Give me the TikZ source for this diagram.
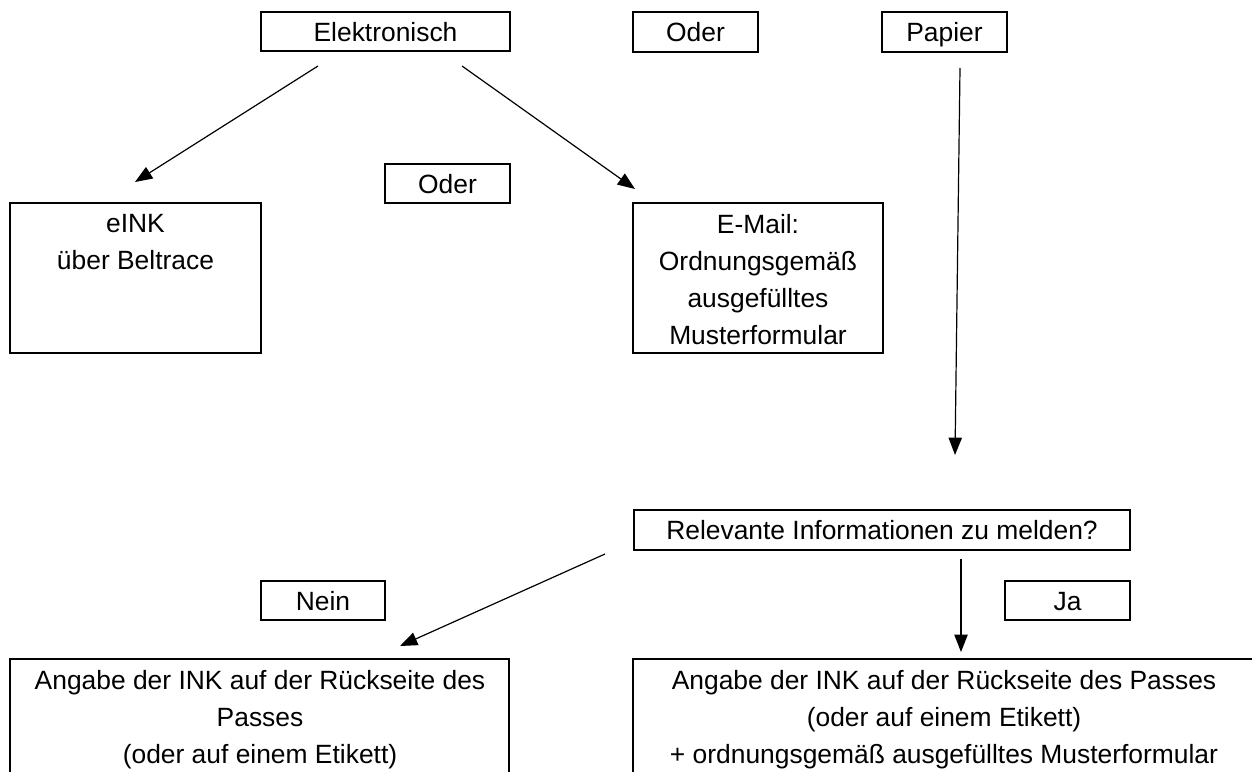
\documentclass[tikz,border=0pt]{standalone}
\usepackage{fontspec}
\setmainfont{Liberation Sans}
\usetikzlibrary{arrows.meta}
\begin{document}
\begin{tikzpicture}[x=0.75pt,y=-0.75pt,
  every node/.style={font=\fontsize{19.8pt}{27.75pt}\selectfont, inner sep=0pt},
  box/.style={draw, line width=1.2pt, rectangle, text height=14.3pt, text depth=0pt},
  bigbox/.style={draw, line width=1.2pt, rectangle},
  txt/.style={align=center, anchor=base},
  conn/.style={line width=0.9pt, -{Triangle[length=13pt,width=10pt]}}]
\useasboundingbox (0,0) rectangle (1252,771);
% top row
\node[box, minimum width=186.75pt, minimum height=29.25pt] (el) at (385.5,31.5) {Elektronisch};
\node[box, minimum width=93.75pt, minimum height=30pt] (oder1) at (695.5,32) {Oder};
\node[box, minimum width=93.75pt, minimum height=30pt] (pap) at (944.5,32) {Papier};
% middle
\node[box, minimum width=93.75pt, minimum height=29.25pt] (oder2) at (447.5,183.5) {Oder};
\node[bigbox, minimum width=188.25pt, minimum height=112.5pt] (eink) at (135.5,278) {};
\node[txt] (einkT) at (135.5,269) {eINK\\über Beltrace};
\node[bigbox, minimum width=187.5pt, minimum height=112.5pt] (mail) at (758,278) {};
\node[txt] (mailT) at (758,344) {E-Mail:\\Ordnungsgemäß\\ausgefülltes\\Musterformular};
% decision
\node[box, minimum width=372pt, minimum height=30pt] (rel) at (882,530) {Relevante Informationen zu melden?};
\node[box, minimum width=93pt, minimum height=29.25pt] (nein) at (323,600.5) {Nein};
\node[box, minimum width=93.75pt, minimum height=29.25pt] (ja) at (1067.5,600.5) {Ja};
% bottom boxes (open at the bottom / right)
\coordinate (blA) at (10,780);
\coordinate (blB) at (10,659);
\coordinate (blC) at (509,659);
\coordinate (blD) at (509,780);
\draw[line width=1.2pt] (blA) -- (blB) -- (blC) -- (blD);
\node[txt] (leftT) at (260,763) {Angabe der INK auf der Rückseite des\\Passes\\(oder auf einem Etikett)};
\coordinate (brA) at (633,780);
\coordinate (brB) at (633,659);
\coordinate (brC) at (1260,659);
\draw[line width=1.2pt] (brA) -- (brB) -- (brC);
\node[txt] (rightT) at (944,763) {Angabe der INK auf der Rückseite des Passes\\(oder auf einem Etikett)\\+ ordnungsgemäß ausgefülltes Musterformular};
% connectors
\coordinate (s1) at (318,66);  \coordinate (t1) at (135,182);
\coordinate (s2) at (462,66);  \coordinate (t2) at (635,189);
\coordinate (s3) at (960,68);  \coordinate (t3) at (955,455);
\coordinate (s4) at (605,554); \coordinate (t4) at (400,646);
\coordinate (s5) at (961,559); \coordinate (t5) at (961,652);
\draw[conn] (s1) -- (t1);
\draw[conn] (s2) -- (t2);
\draw[conn] (s3) -- (t3);
\draw[conn] (s4) -- (t4);
\draw[conn] (s5) -- (t5);
\end{tikzpicture}
\end{document}
